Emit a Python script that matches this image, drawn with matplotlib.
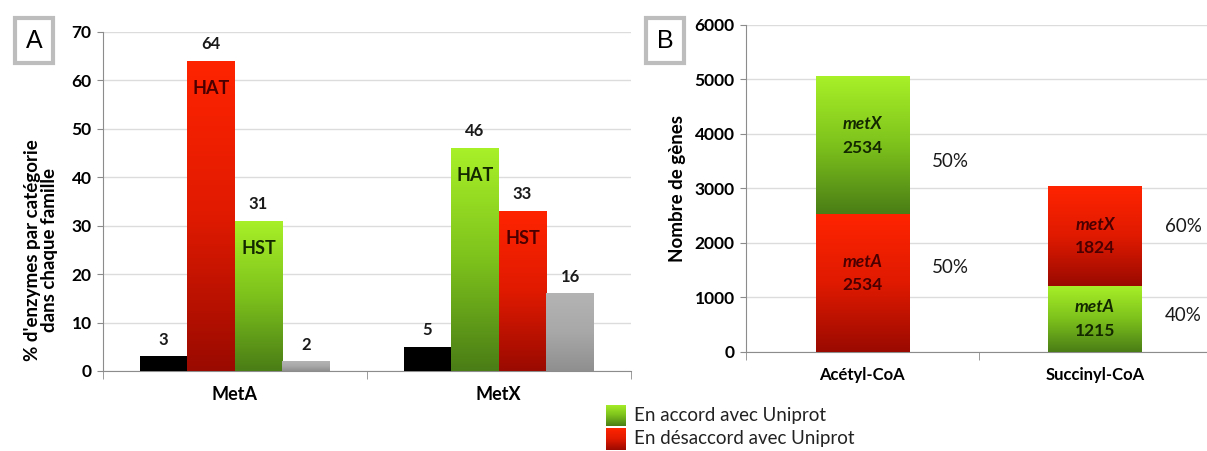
import numpy as np
import matplotlib
matplotlib.use("Agg")
import matplotlib.pyplot as plt
from matplotlib.colors import LinearSegmentedColormap

plt.rcParams['font.family'] = ['Lato', 'DejaVu Sans']

# panel A data
familles = ['MetA', 'MetX']
noir = [3, 5]
hat_a = [64, 46]     # MetA: HAT rouge, MetX: HAT vert
hst_a = [31, 33]     # MetA: HST vert, MetX: HST rouge
gris = [2, 16]

# panel B data
substrats = ['Acétyl-CoA', 'Succinyl-CoA']
bas = [2534, 1215]
haut = [2534, 1824]
noms_bas = ['metA', 'metA']
noms_haut = ['metX', 'metX']
pct_bas = ['50%', '40%']
pct_haut = ['50%', '60%']

GREEN = ['#4a7d16', '#7dc21c', '#a8f028']
RED = ['#9a0a00', '#e01a00', '#ff2400']
GRAY = ['#8f8f8f', '#a8a8a8', '#b4b4b4']
DKRED = '#4a0000'
DKGREEN = '#142800'

cm_green = LinearSegmentedColormap.from_list('g', GREEN)
cm_red = LinearSegmentedColormap.from_list('r', RED)
cm_gray = LinearSegmentedColormap.from_list('k', GRAY)
grad = np.linspace(0, 1, 256).reshape(-1, 1)


def paint(ax, bar, cmap):
    x, y = bar.get_x(), bar.get_y()
    w, h = bar.get_width(), bar.get_height()
    im = ax.imshow(grad, extent=[x, x + w, y, y + h], origin='lower',
                   cmap=cmap, aspect='auto', zorder=3)
    im.set_clip_path(bar)


def style(ax, ysize, xsize):
    for s in ['top', 'right']:
        ax.spines[s].set_visible(False)
    for s in ['left', 'bottom']:
        ax.spines[s].set_color('#8c8c8c')
    ax.yaxis.grid(True, color='#dcdcdc', lw=1)
    ax.set_axisbelow(True)
    ax.tick_params(axis='y', length=4, color='#8c8c8c', labelsize=ysize, pad=4)
    ax.tick_params(axis='x', which='major', length=0, labelsize=xsize, pad=11)
    ax.tick_params(axis='x', which='minor', length=6, color='#8c8c8c')
    for lab in ax.get_xticklabels() + ax.get_yticklabels():
        lab.set_fontweight('bold')


fig = plt.figure(figsize=(12.07, 4.51), dpi=100)

# ---- panel A
axA = fig.add_axes([0.0851, 0.1774, 0.4375, 0.7523])
x = np.arange(len(familles))
w = 0.18
b1 = axA.bar(x - 1.5 * w, noir, w, color='black', zorder=3)
b2 = axA.bar(x - 0.5 * w, [hat_a[0], hat_a[1]], w, color='none', zorder=3)
b3 = axA.bar(x + 0.5 * w, [hst_a[0], hst_a[1]], w, color='none', zorder=3)
b4 = axA.bar(x + 1.5 * w, gris, w, color='none', zorder=3)
paint(axA, b2[0], cm_red)
paint(axA, b2[1], cm_green)
paint(axA, b3[0], cm_green)
paint(axA, b3[1], cm_red)
for b in b4:
    paint(axA, b, cm_gray)

for bars in [b1, b2, b3, b4]:
    for b in bars:
        axA.annotate(str(int(b.get_height())), (b.get_x() + w / 2, b.get_height()),
                     xytext=(0, 12), textcoords='offset points', ha='center', va='center',
                     fontsize=12, fontweight='bold', color='#1a1a1a')

inner = [(b2[0], 'HAT', DKRED), (b3[0], 'HST', DKGREEN),
         (b2[1], 'HAT', DKGREEN), (b3[1], 'HST', DKRED)]
for b, t, c in inner:
    axA.annotate(t, (b.get_x() + w / 2, b.get_height()), xytext=(0, -20),
                 textcoords='offset points', ha='center', va='center',
                 fontsize=13, fontweight='bold', color=c, zorder=5)

axA.set_xlim(-0.5, 1.5)
axA.set_ylim(0, 70)
axA.set_yticks(range(0, 71, 10))
axA.set_xticks(x)
axA.set_xticklabels(familles)
axA.set_xticks([-0.5, 0.5, 1.5], minor=True)
style(axA, 12.5, 13)
fig.text(0.034, 0.445, "% d'enzymes par catégorie\ndans chaque famille", rotation=90,
         ha='center', va='center', fontsize=13.5, fontweight='bold', linespacing=1.05)

# ---- panel B
axB = fig.add_axes([0.6178, 0.2202, 0.384, 0.7244])
xb = np.arange(len(substrats))
wb = 0.40
lo = axB.bar(xb, bas, wb, color='none', zorder=3)
hi = axB.bar(xb, haut, wb, bottom=bas, color='none', zorder=3)
paint(axB, lo[0], cm_red)
paint(axB, hi[0], cm_green)
paint(axB, lo[1], cm_green)
paint(axB, hi[1], cm_red)

col_lo = [DKRED, DKGREEN]
col_hi = [DKGREEN, DKRED]
txt_dy = [7, 0]                      # shift of the inner labels, points
pct_dy_lo = [11, 2]
pct_dy_hi = [-12, 7]
for i in range(len(substrats)):
    for bar, nom, val, c, pct, pdy in [
            (lo[i], noms_bas[i], bas[i], col_lo[i], pct_bas[i], pct_dy_lo[i]),
            (hi[i], noms_haut[i], haut[i], col_hi[i], pct_haut[i], pct_dy_hi[i])]:
        ymid = bar.get_y() + bar.get_height() / 2
        axB.annotate(nom, (xb[i], ymid), xytext=(0, 8 + txt_dy[i]), textcoords='offset points',
                     ha='center', va='center', fontsize=12.5, fontweight='bold',
                     fontstyle='italic', color=c, zorder=5)
        axB.annotate(str(val), (xb[i], ymid), xytext=(0, -9 + txt_dy[i]), textcoords='offset points',
                     ha='center', va='center', fontsize=12.5, fontweight='bold',
                     color=c, zorder=5)
        axB.annotate(pct, (xb[i] + wb / 2, ymid), xytext=(30, pdy), textcoords='offset points',
                     ha='center', va='center', fontsize=13.5, color='#1a1a1a')

axB.set_xlim(-0.5, 1.49)
axB.set_ylim(0, 6000)
axB.set_yticks(range(0, 6001, 1000))
axB.set_xticks(xb)
axB.set_xticklabels(substrats)
axB.set_xticks([-0.5, 0.5], minor=True)
style(axB, 12.5, 12)
axB.set_ylabel('Nombre de gènes', fontsize=13.5, fontweight='bold', labelpad=6)

# ---- boxed panel letters
for xp, t in [(0.028, 'A'), (0.551, 'B')]:
    fig.text(xp, 0.91, t, fontsize=18, ha='center', va='center',
             family=['Liberation Sans', 'DejaVu Sans'],
             bbox=dict(boxstyle='square,pad=0.42', fc='white', ec='#bdbdbd', lw=3))

# ---- legend
for yb, cmap, label in [(0.055, cm_green, 'En accord avec Uniprot'),
                         (0.003, cm_red, 'En désaccord avec Uniprot')]:
    sq = fig.add_axes([0.502, yb, 0.016, 0.048])
    sq.imshow(grad, origin='lower', cmap=cmap, aspect='auto')
    sq.set_axis_off()
    fig.text(0.525, yb + 0.024, label, fontsize=13.5, va='center', ha='left', color='#222222')

fig.savefig('out.png', dpi=100)
